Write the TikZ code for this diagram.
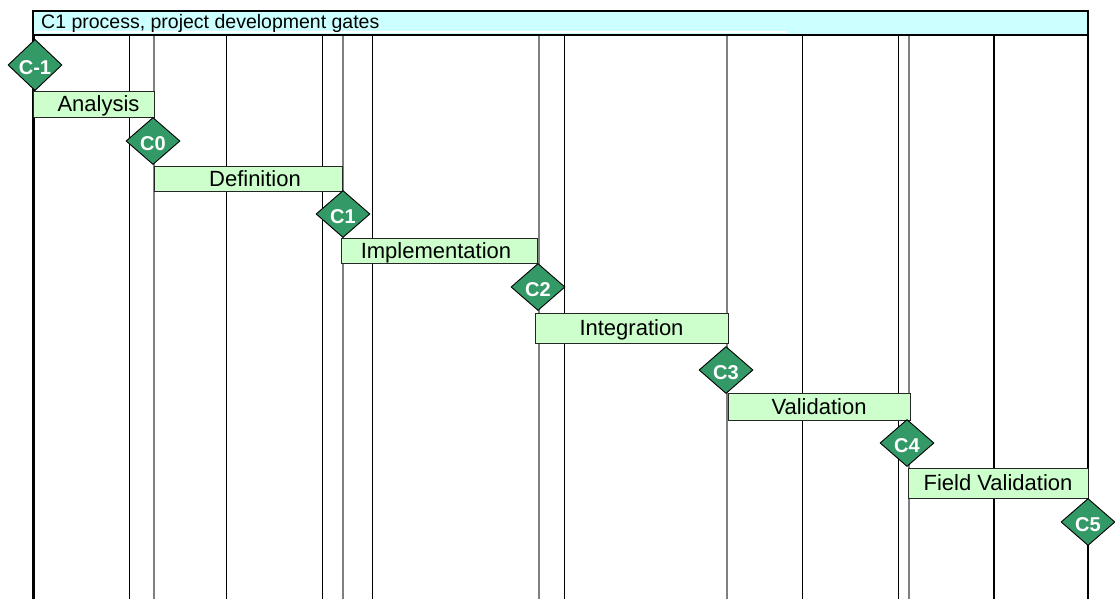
\documentclass[tikz,border=0pt]{standalone}
\usepackage{fontspec}
\setmainfont{Liberation Sans}
\usetikzlibrary{shapes.geometric}
\definecolor{headfill}{HTML}{CCFFFF}
\definecolor{phasefill}{HTML}{CCFFCC}
\definecolor{gatefill}{HTML}{339966}
\definecolor{gateline}{HTML}{808080}
\tikzset{
  gridthin/.style={black, line width=1pt},
  gridgate/.style={gateline, line width=1.6pt},
  gridthick/.style={black, line width=2.2pt},
  phase/.style={rectangle, draw=black!85, line width=0.9pt, fill=phasefill,
    inner sep=0pt, text height=15.8pt, text depth=0pt,
    font=\fontsize{22}{26}\selectfont},
  gate/.style={diamond, draw=black, line width=0.9pt, fill=gatefill,
    inner sep=0pt, minimum width=54pt, minimum height=47pt,
    text=white, text height=19pt, text depth=0pt,
    font=\bfseries\fontsize{20}{24}\selectfont},
}
\begin{document}
\begin{tikzpicture}[x=1pt, y=-1pt]
\useasboundingbox (0,0) rectangle (1115,599);

% column rules of the time grid
\foreach \xx in {129,226,322,372,564,802,898}
  \draw[gridthin] (\xx,35) -- (\xx,599);
\foreach \xx in {154,343,539,727,909}
  \draw[gridgate] (\xx,35) -- (\xx,599);
\foreach \xx in {994,1088}
  \draw[gridthick] (\xx,11) -- (\xx,599);
\draw[black, line width=3pt] (33.5,11) -- (33.5,599);

% heading band
\node[rectangle, draw=black, line width=2pt, fill=headfill, inner sep=0pt,
      minimum width=1055pt, minimum height=24pt] (head) at (560.5,23) {};
\fill[white] (35.5,31.4) rectangle (787,33.2);
\node[anchor=base west, inner sep=0pt, font=\fontsize{19.5}{23}\selectfont]
  (headtext) at (41,28.3) {C1 process, project development gates};

% phases
\node[phase, minimum width=121pt, minimum height=26pt] (analysis) at (93.5,104) {\hspace*{10pt}Analysis};
\node[phase, minimum width=188pt, minimum height=25pt] (definition) at (248,178.5) {\hspace*{14pt}Definition};
\node[phase, minimum width=196pt, minimum height=25pt] (implementation) at (439,250.5) {Implementation\hspace*{6pt}};
\node[phase, minimum width=193pt, minimum height=30pt] (integration) at (631.5,328) {Integration};
\node[phase, minimum width=182pt, minimum height=27pt] (validation) at (819,406.5) {Validation};
\node[phase, minimum width=180pt, minimum height=30pt] (fieldvalidation) at (998,483) {Field Validation};

% gates
\node[gate] (cm1) at (35,65)   {C-1};
\node[gate] (c0)  at (153,141) {C0};
\node[gate] (c1)  at (343,214) {C1};
\node[gate] (c2)  at (538,287) {C2};
\node[gate] (c3)  at (726,370) {C3};
\node[gate] (c4)  at (907,443) {C4};
\node[gate] (c5)  at (1088,522) {C5};
\end{tikzpicture}
\end{document}
